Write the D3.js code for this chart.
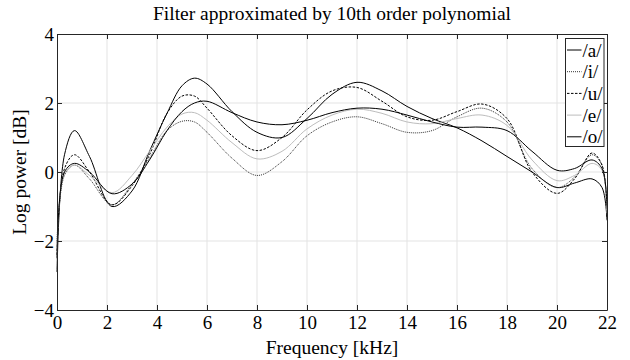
<!DOCTYPE html>
<html>
<head>
<meta charset="utf-8">
<script src="https://cdn.jsdelivr.net/npm/d3@7"></script>
<style>
  body { margin: 0; background: #fff; }
  svg { display: block; font-family: "Liberation Serif", "Times New Roman", serif; }
</style>
</head>
<body>
<div id="chart"></div>
<script>
// sample frequencies in kHz, shared by all curves
const freqs = [0, 0.3, 0.7, 1.3, 2.2, 3, 3.7, 4.4, 5, 5.5, 6, 7, 8, 9, 10, 11, 12, 13, 14, 15, 16, 17, 18, 19, 20, 20.7, 21.4, 21.8, 22];

const vowel_a = [-2.9, 0.5, 1.2, 0.45, -1.0, -0.55, 0.6, 1.7, 2.5, 2.72, 2.55, 1.75, 1.15, 1.0, 1.55, 2.25, 2.6, 2.35, 1.9, 1.55, 1.28, 0.9, 0.45, 0.0, -0.45, -0.32, -0.2, -0.45, -1.4];
const vowel_i = [-2.0, -0.1, 0.2, -0.2, -0.95, -0.35, 0.4, 1.2, 1.47, 1.45, 1.15, 0.4, -0.1, 0.3, 1.05, 1.45, 1.6, 1.4, 1.15, 1.2, 1.6, 1.85, 1.45, 0.1, -0.45, -0.15, 0.5, 0.2, -1.3];
const vowel_u = [-2.4, 0.1, 0.5, 0.0, -0.95, -0.4, 0.5, 1.7, 2.2, 2.2, 1.85, 1.05, 0.62, 1.0, 1.8, 2.35, 2.45, 2.05, 1.6, 1.5, 1.75, 1.97, 1.55, 0.0, -0.62, -0.2, 0.55, 0.2, -1.3];
const vowel_e = [-2.2, -0.05, 0.2, -0.1, -0.6, -0.1, 0.6, 1.3, 1.68, 1.72, 1.5, 0.85, 0.38, 0.6, 1.25, 1.65, 1.82, 1.7, 1.45, 1.4, 1.55, 1.65, 1.35, 0.35, -0.25, -0.1, 0.25, 0.05, -1.2];
const vowel_o = [-2.5, 0.0, 0.25, 0.0, -0.63, -0.35, 0.35, 1.2, 1.75, 2.0, 2.05, 1.72, 1.45, 1.37, 1.5, 1.72, 1.85, 1.82, 1.65, 1.45, 1.3, 1.3, 1.2, 0.6, 0.05, 0.1, 0.35, 0.1, -1.0];

const labels = ["/a/", "/i/", "/u/", "/e/", "/o/"];
const xticks = [0, 2, 4, 6, 8, 10, 12, 14, 16, 18, 20, 22];
const yticks = [-4, -2, 0, 2, 4];

const series = [
  { name: labels[0], values: vowel_a, color: "#000", dash: null },
  { name: labels[1], values: vowel_i, color: "#333", dash: "1,1" },
  { name: labels[2], values: vowel_u, color: "#000", dash: "2.5,1.5" },
  { name: labels[3], values: vowel_e, color: "#bdbdbd", dash: null },
  { name: labels[4], values: vowel_o, color: "#000", dash: null }
];

const w = 630, h = 360;
const pl = 57, pr = 607, pt = 34, pb = 310;

const svg = d3.select("#chart").append("svg")
  .attr("width", w).attr("height", h);

const x = d3.scaleLinear().domain([0, 22]).range([pl, pr]);
const y = d3.scaleLinear().domain([-4, 4]).range([pb, pt]);

// grid
svg.append("g").selectAll("line").data(xticks.slice(1, -1)).join("line")
  .attr("x1", d => x(d)).attr("x2", d => x(d))
  .attr("y1", pt).attr("y2", pb)
  .attr("stroke", "#e3e3e3").attr("stroke-width", 1);
svg.append("g").selectAll("line").data(yticks.slice(1, -1)).join("line")
  .attr("x1", pl).attr("x2", pr)
  .attr("y1", d => y(d)).attr("y2", d => y(d))
  .attr("stroke", "#e3e3e3").attr("stroke-width", 1);

// curves
const line = d3.line()
  .x((d, i) => x(freqs[i]))
  .y(d => y(d))
  .curve(d3.curveCatmullRom.alpha(0.5));

svg.append("g").selectAll("path").data(series).join("path")
  .attr("d", d => line(d.values))
  .attr("fill", "none")
  .attr("stroke", d => d.color)
  .attr("stroke-width", 1)
  .attr("stroke-dasharray", d => d.dash);

// axes, ticks inward on all four sides
const fs = "19px";
const xb = svg.append("g").attr("transform", `translate(0,${pb})`)
  .call(d3.axisBottom(x).tickValues(xticks).tickSizeInner(-5).tickSizeOuter(0).tickPadding(6));
const xt = svg.append("g").attr("transform", `translate(0,${pt})`)
  .call(d3.axisTop(x).tickValues(xticks).tickSizeInner(-5).tickSizeOuter(0).tickFormat(""));
const yl = svg.append("g").attr("transform", `translate(${pl},0)`)
  .call(d3.axisLeft(y).tickValues(yticks).tickSizeInner(-5).tickSizeOuter(0).tickPadding(3));
const yr = svg.append("g").attr("transform", `translate(${pr},0)`)
  .call(d3.axisRight(y).tickValues(yticks).tickSizeInner(-5).tickSizeOuter(0).tickFormat(""));

[xb, xt, yl, yr].forEach(a => {
  a.attr("font-family", null).attr("font-size", null);
  a.selectAll("path.domain").attr("stroke", "#262626");
  a.selectAll(".tick line").attr("stroke", "#262626");
  a.selectAll("text").attr("font-size", fs).attr("fill", "#000");
});
yl.selectAll("text").attr("dy", "0.35em");

// titles
svg.append("text").attr("x", (pl + pr) / 2).attr("y", 20)
  .attr("text-anchor", "middle").attr("font-size", "19.5px")
  .text("Filter approximated by 10th order polynomial");
svg.append("text").attr("x", (pl + pr) / 2).attr("y", 354)
  .attr("text-anchor", "middle").attr("font-size", "19.5px")
  .text("Frequency [kHz]");
svg.append("text")
  .attr("transform", `translate(26,${(pt + pb) / 2}) rotate(-90)`)
  .attr("text-anchor", "middle").attr("font-size", "19.5px")
  .text("Log power [dB]");

// legend
const lg = svg.append("g").attr("transform", "translate(565.5,38.5)");
lg.append("rect").attr("width", 38.5).attr("height", 108)
  .attr("fill", "#fff").attr("stroke", "#262626").attr("stroke-width", 1);
const items = lg.selectAll("g").data(series).join("g")
  .attr("transform", (d, i) => `translate(0,${11.5 + i * 21.7})`);
items.append("line").attr("x1", 1.5).attr("x2", 16).attr("y1", 0).attr("y2", 0)
  .attr("stroke", d => d.color).attr("stroke-width", 1)
  .attr("stroke-dasharray", d => d.dash);
items.append("text").attr("x", 17).attr("dy", "0.35em")
  .attr("font-size", "19px").text(d => d.name);
</script>
</body>
</html>
